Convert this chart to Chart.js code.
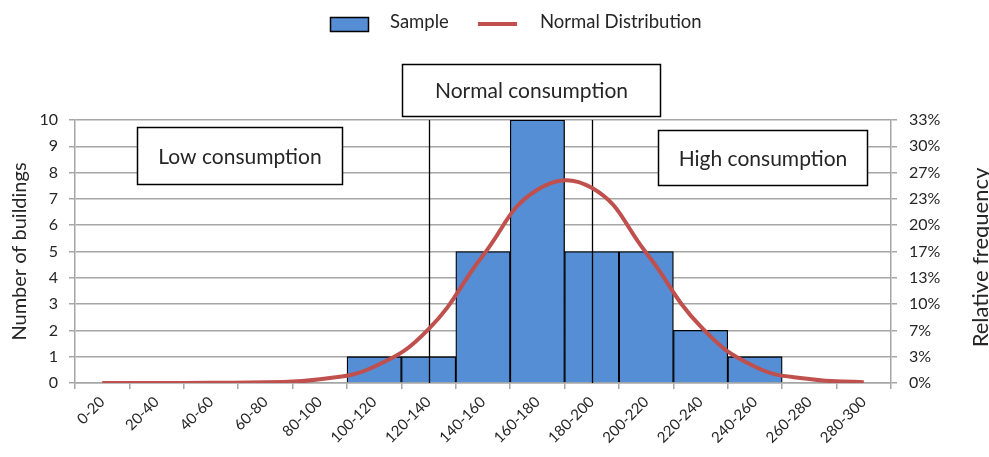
<!DOCTYPE html>
<html>
<head>
<meta charset="utf-8">
<script src="https://cdn.jsdelivr.net/npm/chart.js@4.4.0/dist/chart.umd.min.js"></script>
<style>
  html, body { margin: 0; padding: 0; background: #fff; }
  #wrap { width: 989px; height: 457px; position: relative; }
</style>
</head>
<body>
<div id="wrap"><canvas id="chart_histogram"></canvas></div>
<script>
// bins of annual consumption
var binLabels = ['0-20', '20-40', '40-60', '60-80', '80-100', '100-120', '120-140', '140-160',
  '160-180', '180-200', '200-220', '220-240', '240-260', '260-280', '280-300'];
// number of buildings per bin
var sampleCounts = [0, 0, 0, 0, 0, 1, 1, 5, 10, 5, 5, 2, 1, 0, 0];
// fitted normal distribution, read at bin centres
var normalCurve = [0, 0, 0.01, 0.03, 0.14, 0.62, 2.05, 4.85, 7.35, 7.42, 4.95, 2.15, 0.62, 0.15, 0.03];
var totalBuildings = 30;
// bins where the "normal consumption" range starts and ends
var normalRangeBins = ['120-140', '180-200'];
// text boxes: label, [left bin idx, right bin idx], [top value, bottom value]
var zoneLabels = ['Low consumption', 'Normal consumption', 'High consumption'];
var zoneX = [[0.64, 4.41], [5.51, 10.25], [10.22, 14.06]];
var zoneY = [[9.73, 7.56], [12.14, 10.15], [9.62, 7.52]];

var FONT = 'Lato, "Open Sans", sans-serif';
var TXT = '#262626';
var GRID = '#a6a6a6';

var extras = {
  id: 'extras',
  afterDatasetDraw: function (chart, args) {
    if (args.index !== 0) return;
    var ctx = chart.ctx, x = chart.scales.x, a = chart.chartArea;
    ctx.save();
    ctx.strokeStyle = '#000';
    ctx.lineWidth = 1.3;
    normalRangeBins.forEach(function (b) {
      var px = Math.round(x.getPixelForValue(binLabels.indexOf(b))) + 0.5;
      ctx.beginPath();
      ctx.moveTo(px, a.top);
      ctx.lineTo(px, a.bottom);
      ctx.stroke();
    });
    ctx.restore();
  },
  afterDraw: function (chart) {
    var ctx = chart.ctx, x = chart.scales.x, y = chart.scales.y, a = chart.chartArea;
    var ds = chart.data.datasets;
    ctx.save();
    zoneLabels.forEach(function (t, i) {
      var x0 = Math.round(x.getPixelForValue(zoneX[i][0])) + 0.5;
      var x1 = Math.round(x.getPixelForValue(zoneX[i][1])) + 0.5;
      var y0 = Math.round(y.getPixelForValue(zoneY[i][0])) + 0.5;
      var y1 = Math.round(y.getPixelForValue(zoneY[i][1])) + 0.5;
      ctx.fillStyle = '#fff';
      ctx.fillRect(x0, y0, x1 - x0, y1 - y0);
      ctx.strokeStyle = '#000';
      ctx.lineWidth = 1.5;
      ctx.strokeRect(x0, y0, x1 - x0, y1 - y0);
      ctx.fillStyle = TXT;
      ctx.font = '21px ' + FONT;
      ctx.textAlign = 'center';
      ctx.textBaseline = 'middle';
      ctx.fillText(t, (x0 + x1) / 2, (y0 + y1) / 2 + 1);
    });

    // legend
    ctx.font = '18.5px ' + FONT;
    ctx.textAlign = 'left';
    ctx.textBaseline = 'middle';
    ctx.fillStyle = ds[0].backgroundColor;
    ctx.fillRect(330.5, 17.5, 38, 14);
    ctx.strokeStyle = '#000';
    ctx.lineWidth = 1.5;
    ctx.strokeRect(330.5, 17.5, 38, 14);
    ctx.fillStyle = TXT;
    ctx.fillText(ds[0].label, 390, 22);
    ctx.strokeStyle = ds[1].borderColor;
    ctx.lineWidth = 4;
    ctx.beginPath();
    ctx.moveTo(478, 24);
    ctx.lineTo(517, 24);
    ctx.stroke();
    ctx.fillText(ds[1].label, 540, 22);

    // right axis title, reading bottom to top
    ctx.translate(981, (a.top + a.bottom) / 2 + 6);
    ctx.rotate(-Math.PI / 2);
    ctx.font = '22px ' + FONT;
    ctx.textAlign = 'center';
    ctx.fillText('Relative frequency', 0, 0);
    ctx.restore();
  }
};

var chart_histogram = new Chart(document.getElementById('chart_histogram'), {
  type: 'bar',
  data: {
    labels: binLabels,
    datasets: [
      {
        type: 'bar',
        label: 'Sample',
        data: sampleCounts,
        backgroundColor: '#558ed5',
        borderColor: '#000',
        borderWidth: 1.3,
        borderSkipped: 'start',
        barPercentage: 1,
        categoryPercentage: 1,
        yAxisID: 'y',
        order: 2
      },
      {
        type: 'line',
        label: 'Normal Distribution',
        data: normalCurve,
        borderColor: '#c0504d',
        backgroundColor: '#c0504d',
        borderWidth: 4,
        pointRadius: 0,
        tension: 0.45,
        fill: false,
        yAxisID: 'y',
        order: 1
      }
    ]
  },
  options: {
    animation: false,
    responsive: true,
    maintainAspectRatio: false,
    layout: { padding: { top: 120, left: 0, right: 0, bottom: 0 } },
    plugins: {
      legend: { display: false },
      tooltip: { enabled: false }
    },
    scales: {
      x: {
        offset: true,
        grid: { display: true, drawOnChartArea: false, drawTicks: true, tickLength: 6, color: GRID, lineWidth: 1.5, offset: true },
        border: { display: true, color: GRID, width: 1.5 },
        ticks: { color: TXT, font: { family: FONT, size: 15 }, minRotation: 45, maxRotation: 45, autoSkip: false, padding: 4 },
        afterFit: function (s) { s.height = 74; }
      },
      y: {
        position: 'left',
        min: 0,
        max: 10,
        ticks: { stepSize: 1, color: TXT, font: { family: FONT, size: 16 }, padding: 11 },
        grid: { color: GRID, lineWidth: 1.5, tickLength: 6 },
        border: { display: true, color: GRID, width: 1.5 },
        title: { display: true, text: 'Number of buildings', color: TXT, font: { family: FONT, size: 20 }, padding: { top: 8, bottom: 2 } },
        afterFit: function (s) { s.width = 75; }
      },
      y2: {
        position: 'right',
        min: 0,
        max: 10,
        ticks: {
          stepSize: 1, color: TXT, font: { family: FONT, size: 16 }, padding: 12,
          callback: function (v) { return Math.round(v / totalBuildings * 100) + '%'; }
        },
        grid: { drawOnChartArea: false, color: GRID, lineWidth: 1.5, tickLength: 6 },
        border: { display: true, color: GRID, width: 1.5 },
        afterFit: function (s) { s.width = 98; }
      }
    }
  },
  plugins: [extras, {
    id: 'customBackground',
    beforeDraw: function (chart) {
      var ctx = chart.canvas.getContext('2d');
      ctx.save();
      ctx.globalCompositeOperation = 'destination-over';
      ctx.fillStyle = 'white';
      ctx.fillRect(0, 0, chart.canvas.width, chart.canvas.height);
      ctx.restore();
    }
  }]
});
</script>
</body>
</html>
